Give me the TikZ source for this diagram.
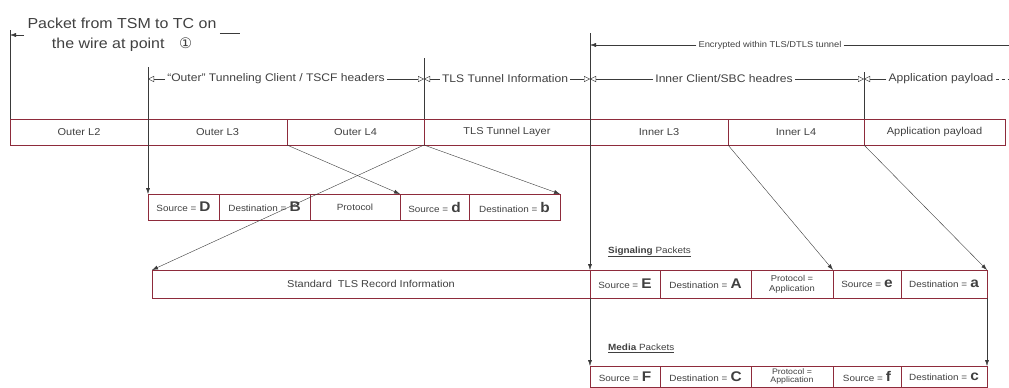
\documentclass[tikz,border=0pt]{standalone}
\usepackage{fontspec}
\setmainfont{Liberation Sans}[FakeStretch=1.1]
\newfontfamily\symfont{DejaVu Sans}
\usetikzlibrary{positioning,arrows.meta}
\definecolor{pktred}{HTML}{8E2B3B}
\definecolor{wiregray}{HTML}{3A3A3A}
\definecolor{textgray}{HTML}{404040}
\tikzset{
    cell/.style={draw=pktred,semithick,outer sep=0pt,minimum height=26pt,inner sep=1pt,text=textgray,font=\fontsize{10}{12}\selectfont},
    wire/.style={draw=wiregray,thin},
    ptr/.style={wire,-{Latex[length=6pt,width=4pt]}},
    dim/.style={wire,-{Triangle[open,length=6pt,width=6pt]}},
    dimtext/.style={text=textgray,font=\fontsize{11}{13}\selectfont,inner sep=2pt},
    tag/.style={text=textgray,font=\fontsize{9}{11}\selectfont,inner sep=0pt},
}
\newcommand\fieldeq[2]{{\fontsize{9}{11}\selectfont #1 =} {\fontsize{14}{14}\selectfont\bfseries #2}}

\begin{document}
\begin{tikzpicture}[x=1pt,y=-1pt,node distance=0pt]
    \useasboundingbox (0,0) rectangle (1009,388);
    \node[cell,anchor=north west,minimum width=138pt] (l2) at (10,119) {Outer L2};
    \node[cell,right=of l2,minimum width=139pt] (l3) {Outer L3};
    \node[cell,right=of l3,minimum width=137pt] (l4) {Outer L4};
    \node[cell,right=of l4,minimum width=166pt] (tls) {TLS Tunnel Layer};
    \node[cell,right=of tls,minimum width=138pt] (il3) {Inner L3};
    \node[cell,right=of il3,minimum width=136pt] (il4) {Inner L4};
    \node[cell,right=of il4,minimum width=141pt] (app) {Application payload};

    \node[cell,anchor=north west,minimum width=71pt] (srcD) at (148,194) {\fieldeq{Source}{D}};
    \node[cell,right=of srcD,minimum width=91pt] (dstB) {\fieldeq{Destination}{B}};
    \node[cell,right=of dstB,minimum width=90pt,font=\fontsize{9}{11}\selectfont] (proto) {Protocol};
    \node[cell,right=of proto,minimum width=69pt] (srcd) {\fieldeq{Source}{d}};
    \node[cell,right=of srcd,minimum width=91pt] (dstb) {\fieldeq{Destination}{b}};

    \node[cell,anchor=north west,minimum width=438pt,minimum height=28pt] (rec) at (152,270) {Standard\ \ TLS Record Information};
    \node[cell,right=of rec,minimum width=70pt,minimum height=28pt] (srcE) {\fieldeq{Source}{E}};
    \node[cell,right=of srcE,minimum width=91pt,minimum height=28pt] (dstA) {\fieldeq{Destination}{A}};
    \node[cell,right=of dstA,minimum width=82pt,minimum height=28pt,align=center,font=\fontsize{8.5}{10}\selectfont] (protoS) {Protocol =\\Application};
    \node[cell,right=of protoS,minimum width=68pt,minimum height=28pt] (srce) {\fieldeq{Source}{e}};
    \node[cell,right=of srce,minimum width=86pt,minimum height=28pt] (dsta) {\fieldeq{Destination}{a}};

    \node[cell,anchor=north west,minimum width=70pt,minimum height=21pt,inner sep=0pt] (srcF) at (590,366) {\fieldeq{Source}{F}};
    \node[cell,right=of srcF,minimum width=91pt,minimum height=21pt,inner sep=0pt] (dstC) {\fieldeq{Destination}{C}};
    \node[cell,right=of dstC,minimum width=82pt,minimum height=21pt,inner sep=0pt,align=center,font=\fontsize{8}{8.5}\selectfont] (protoM) {Protocol =\\Application};
    \node[cell,right=of protoM,minimum width=68pt,minimum height=21pt,inner sep=0pt] (srcf) {\fieldeq{Source}{f}};
    \node[cell,right=of srcf,minimum width=86pt,minimum height=21pt,inner sep=0pt] (dstc) {\fieldeq{Destination}{c}};

    \node[tag,anchor=west] (sigtag) at (608,252) {\underline{\textbf{Signaling} Packets}};
    \node[tag,anchor=west] (medtag) at (608,348) {\underline{\textbf{Media} Packets}};

    \node[align=center,text=textgray,font=\fontsize{14.5}{20}\selectfont] (pkt) at (122,35) {Packet from TSM to TC on\\the wire at point\quad{\symfont ①}};
    \coordinate (wireTop) at (10,30);
    \coordinate (pktEnd) at (240,33);
    \draw[wire] (wireTop) -- (l2.north west);
    \draw[ptr] (pkt.west) -- (pkt.west -| wireTop);
    \draw[wire] (pkt.east |- pktEnd) -- (pktEnd);

    \node[dimtext,font=\fontsize{8.5}{10}\selectfont] (enc) at (770,45) {Encrypted within TLS/DTLS tunnel};
    \coordinate (encL) at (590,45);
    \coordinate (encR) at (1009,45);
    \draw[ptr] (enc) -- (encL);
    \draw[wire] (enc) -- (encR);

    \node[dimtext] (dOuter) at (276,79) {“Outer” Tunneling Client / TSCF headers};
    \node[dimtext] (dTls) at (505,79) {TLS Tunnel Information};
    \node[dimtext] (dInner) at (724,79) {Inner Client/SBC headres};
    \node[dimtext] (dApp) at (941,79) {Application payload};
    \coordinate (outerTop) at (148,67);
    \coordinate (tlsTop) at (424,58);
    \coordinate (innerTop) at (590,33);
    \coordinate (appTop) at (864,72);
    \draw[dim] (dOuter) -- (dOuter -| outerTop);
    \draw[dim] (dOuter) -- (dOuter -| tlsTop);
    \draw[dim] (dTls) -- (dTls -| tlsTop);
    \draw[dim] (dTls) -- (dTls -| innerTop);
    \draw[dim] (dInner) -- (dInner -| innerTop);
    \draw[dim] (dInner) -- (dInner -| appTop);
    \draw[dim] (dApp) -- (dApp -| appTop);
    \draw[wire,dashed] (dApp) -- (dApp -| encR);

    \draw[ptr] (outerTop) -- (srcD.north west);
    \draw[wire] (tlsTop) -- (l4.north east);
    \draw[wire] (appTop) -- (app.north west);
    \draw[ptr] (innerTop) -- (srcE.north west);
    \draw[ptr] (srcE.south west) -- (srcF.north west);
    \draw[ptr] (l3.south east) -- (proto.north east);
    \draw[ptr] (l4.south east) -- (dstb.north east);
    \draw[ptr] (l4.south east) -- (rec.north west);
    \draw[ptr] (il3.south east) -- (protoS.north east);
    \draw[ptr] (il4.south east) -- (dsta.north east);
    \draw[ptr] (dsta.south east) -- (dstc.north east);
\end{tikzpicture}
\end{document}
